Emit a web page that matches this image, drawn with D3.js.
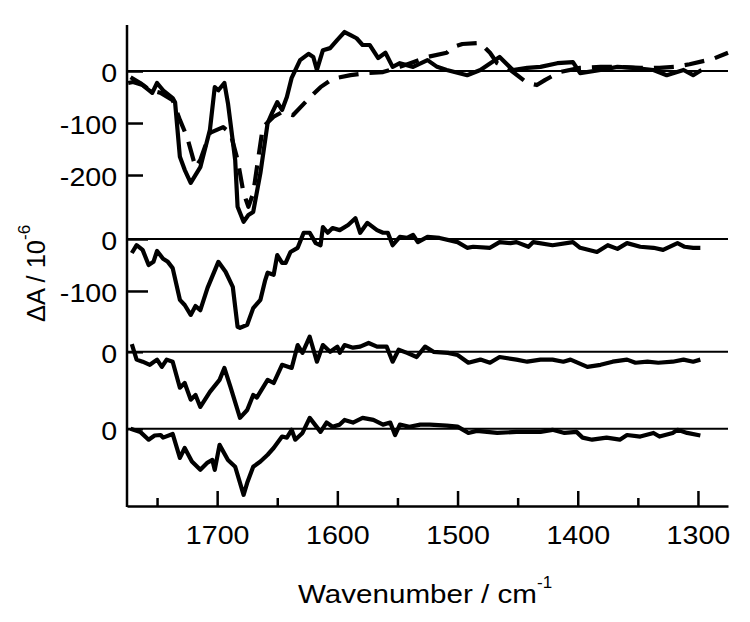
<!DOCTYPE html>
<html>
<head>
<meta charset="utf-8">
<script src="https://cdn.jsdelivr.net/npm/d3@7"></script>
<style>
  body { margin: 0; background: #fff; }
  svg text { font-family: "Liberation Sans", Arial, Helvetica, sans-serif; fill: #000; }
</style>
</head>
<body>
<div id="chart"></div>
<script>
// [wavenumber (cm-1), dA (1e-6)]
var traceA = [[1774,-23],[1770,-21],[1762,-27],[1754,-42],[1750,-23],[1745,-37],[1737,-52],[1735,-60],
  [1731,-165],[1727,-190],[1722,-215],[1714,-185],[1706,-113],[1702,-31],[1699,-37],[1694,-23],[1691,-62],
  [1685,-171],[1683,-261],[1678,-290],[1674,-277],[1670,-271],[1664,-196],[1658,-100],[1654,-79],[1650,-60],
  [1646,-75],[1642,-50],[1638,-13],[1631,21],[1624,33],[1620,27],[1617,2],[1612,40],[1606,44],[1600,60],
  [1594,75],[1589,69],[1584,63],[1579,50],[1573,50],[1566,25],[1560,35],[1554,8],[1548,15],[1537,8],
  [1525,21],[1517,8],[1509,2],[1492,-8],[1481,2],[1465,27],[1454,2],[1442,6],[1431,8],[1417,15],[1404,17],
  [1398,-4],[1381,2],[1367,8],[1354,6],[1337,2],[1326,-8],[1312,2],[1304,-8],[1297,2]];

var traceAdash = [[1772,-12],[1764,-23],[1756,-37],[1747,-42],[1737,-56],[1731,-94],[1725,-127],[1718,-185],
  [1714,-171],[1706,-119],[1695,-108],[1689,-119],[1683,-171],[1678,-235],[1674,-261],[1670,-235],[1666,-171],
  [1662,-108],[1653,-88],[1646,-79],[1637,-85],[1625,-56],[1614,-31],[1604,-15],[1589,-8],[1575,-4],[1562,-2],
  [1548,8],[1537,17],[1525,27],[1509,35],[1504,46],[1496,52],[1481,54],[1473,35],[1467,15],[1456,2],[1442,-23],
  [1434,-27],[1427,-17],[1415,-2],[1398,6],[1381,8],[1365,8],[1348,6],[1332,6],[1319,8],[1307,13],[1288,23],[1275,35]];

var traceB = [[1771,-27],[1767,-12],[1762,-21],[1757,-50],[1753,-44],[1750,-23],[1745,-38],[1741,-44],[1737,-56],
  [1731,-117],[1727,-127],[1722,-146],[1718,-129],[1714,-137],[1708,-94],[1699,-44],[1693,-63],[1687,-92],
  [1683,-169],[1681,-171],[1675,-165],[1670,-133],[1664,-117],[1660,-79],[1658,-65],[1653,-69],[1650,-31],
  [1646,-46],[1643,-46],[1639,-25],[1633,-17],[1628,12],[1623,12],[1618,-8],[1614,-12],[1612,23],[1608,12],
  [1604,21],[1598,17],[1591,27],[1585,40],[1581,12],[1575,31],[1567,17],[1562,12],[1558,12],[1554,-12],
  [1548,4],[1542,2],[1537,8],[1533,-6],[1525,4],[1515,2],[1500,-6],[1492,-17],[1487,-15],[1473,-17],[1465,-6],
  [1456,-8],[1451,-6],[1441,-15],[1437,-6],[1421,-12],[1404,-6],[1398,-17],[1384,-25],[1375,-12],[1367,-19],
  [1359,-8],[1348,-15],[1337,-17],[1329,-21],[1317,-8],[1311,-15],[1304,-17],[1298,-17]];

var traceC = [[1771,15],[1767,-15],[1762,-19],[1756,-25],[1750,-15],[1746,-29],[1742,-15],[1737,-19],[1731,-69],
  [1727,-60],[1722,-92],[1718,-83],[1714,-106],[1706,-77],[1698,-54],[1694,-31],[1689,-67],[1681,-127],
  [1675,-112],[1670,-83],[1667,-88],[1658,-54],[1653,-60],[1646,-25],[1638,-31],[1633,13],[1629,-2],[1623,29],
  [1617,-19],[1612,13],[1606,0],[1600,10],[1598,-2],[1594,13],[1587,8],[1581,10],[1574,17],[1567,10],[1559,10],
  [1554,-19],[1549,4],[1542,-2],[1534,-10],[1527,10],[1520,0],[1508,-2],[1500,-6],[1491,-21],[1481,-15],
  [1473,-21],[1465,-10],[1451,-15],[1442,-19],[1431,-15],[1421,-15],[1412,-19],[1406,-15],[1392,-29],[1381,-25],
  [1371,-19],[1359,-15],[1352,-21],[1342,-19],[1333,-21],[1321,-19],[1312,-15],[1304,-19],[1298,-15]];

var traceD = [[1772,0],[1764,-6],[1757,-21],[1752,-13],[1747,-12],[1745,-17],[1737,-10],[1731,-56],[1727,-37],
  [1721,-63],[1714,-79],[1708,-65],[1704,-60],[1702,-79],[1698,-31],[1691,-60],[1685,-73],[1678,-127],
  [1675,-104],[1670,-73],[1664,-63],[1658,-50],[1653,-37],[1646,-15],[1642,-17],[1638,-2],[1635,-21],[1629,-8],
  [1623,21],[1614,-6],[1609,12],[1604,4],[1598,8],[1594,17],[1587,12],[1579,21],[1570,17],[1562,8],[1556,12],
  [1552,-12],[1548,8],[1540,4],[1531,8],[1523,8],[1509,6],[1500,4],[1491,-8],[1484,-4],[1467,-8],[1451,-6],
  [1431,-6],[1421,-2],[1411,-8],[1401,-6],[1396,-17],[1388,-21],[1376,-17],[1365,-21],[1359,-12],[1348,-15],
  [1337,-8],[1332,-15],[1321,-8],[1317,-2],[1309,-8],[1298,-13]];

// vertical offsets of the stacked traces (same units as dA)
var panelOffsets = [0, -323, -540, -688];
var panelTicks = [[0, -100, -200], [0, -100], [0], [0]];
var xMajorTicks = [1700, 1600, 1500, 1400, 1300];
var xMinorTicks = [1750, 1650, 1550, 1450, 1350];

var W = 750, H = 622;
var x = d3.scaleLinear().domain([1775, 1275]).range([127, 728]);
var y = d3.scaleLinear().domain([88.5, -834.6]).range([25, 505]);

var svg = d3.select("#chart").append("svg")
  .attr("width", W).attr("height", H);

// zero lines
svg.selectAll("line.zero")
  .data(panelOffsets)
  .enter().append("line")
  .attr("class", "zero")
  .attr("x1", x.range()[0]).attr("x2", x.range()[1])
  .attr("y1", function (d) { return y(d); })
  .attr("y2", function (d) { return y(d); })
  .attr("stroke", "#000").attr("stroke-width", 2);

var lineFor = function (off) {
  return d3.line()
    .x(function (d) { return x(d[0]); })
    .y(function (d) { return y(d[1] + off); });
};

var traces = [
  { data: traceA, off: panelOffsets[0], dash: null },
  { data: traceAdash, off: panelOffsets[0], dash: "20,11" },
  { data: traceB, off: panelOffsets[1], dash: null },
  { data: traceC, off: panelOffsets[2], dash: null },
  { data: traceD, off: panelOffsets[3], dash: null }
];

traces.forEach(function (t) {
  svg.append("path")
    .attr("d", lineFor(t.off)(t.data))
    .attr("fill", "none")
    .attr("stroke", "#000")
    .attr("stroke-width", 4.2)
    .attr("stroke-linejoin", "round")
    .attr("stroke-dasharray", t.dash);
});

// x axis
var xAxisG = svg.append("g").attr("transform", "translate(0,506)");
xAxisG.call(d3.axisBottom(x).tickValues(xMajorTicks).tickSize(-15).tickSizeOuter(0)
  .tickPadding(19).tickFormat(d3.format("d")));
xAxisG.append("g").call(d3.axisBottom(x).tickValues(xMinorTicks).tickSize(-8)
  .tickFormat("")).select(".domain").remove();
xAxisG.selectAll("path, line").attr("stroke", "#000").attr("stroke-width", 2.5);
xAxisG.selectAll("text").attr("font-size", 26.5).attr("font-family", null).attr("fill", "#000")
  .attr("transform", "scale(1.08,1)");

// y axis line
svg.append("line")
  .attr("x1", 127).attr("x2", 127)
  .attr("y1", y.range()[0]).attr("y2", 507)
  .attr("stroke", "#000").attr("stroke-width", 2.5);

// per-trace y ticks
panelOffsets.forEach(function (off, i) {
  var yp = y.copy().domain(y.domain().map(function (v) { return v - off; }));
  var g = svg.append("g").attr("transform", "translate(127,0)");
  g.call(d3.axisLeft(yp).tickValues(panelTicks[i]).tickSize(i === 1 ? -21 : -16).tickPadding(9)
    .tickFormat(d3.format("d")));
  g.select(".domain").remove();
  g.selectAll("line").attr("stroke", "#000").attr("stroke-width", 2.5);
  g.selectAll("text").attr("font-size", 26).attr("font-family", null).attr("fill", "#000")
    .attr("dy", "0.4em").attr("transform", "scale(1.1,1)")
    .text(function (d) { return d === 0 ? "0" : String(d).replace("−", "-"); });
});

// axis titles
var xt = svg.append("text").attr("x", 298).attr("y", 603).attr("font-size", 26.5);
xt.append("tspan").attr("textLength", 239).attr("lengthAdjust", "spacingAndGlyphs").text("Wavenumber / cm");
xt.append("tspan").attr("dy", -15).attr("font-size", 17).text("-1");

var yt = svg.append("text").attr("transform", "translate(45,322) rotate(-90)").attr("font-size", 25);
yt.append("tspan").attr("textLength", 82).attr("lengthAdjust", "spacingAndGlyphs").text("ΔA / 10");
yt.append("tspan").attr("dy", -15).attr("font-size", 17).text("-6");
</script>
</body>
</html>
